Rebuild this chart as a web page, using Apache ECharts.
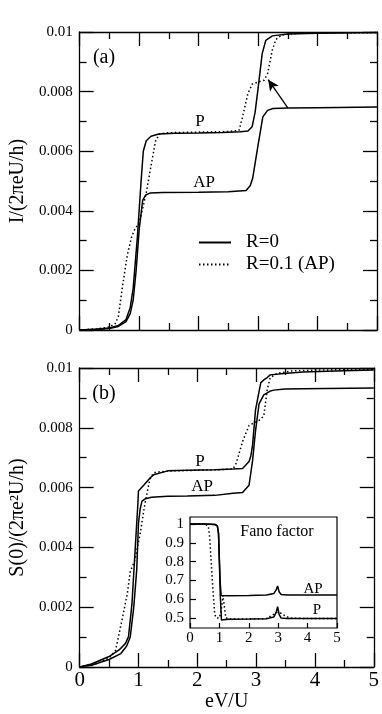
<!DOCTYPE html>
<html>
<head>
<meta charset="utf-8">
<script src="https://cdn.jsdelivr.net/npm/echarts@6/dist/echarts.min.js"></script>
<style>
    html, body {margin: 0; padding: 0; background: #fff;}
    #chart {width: 382px; height: 714px;}
</style>
</head>
<body>
<div id="chart"></div>
<script>
// panel (a): current, y in units of 0.001
const aPx = [0, 0.3, 0.5, 0.65, 0.78, 0.85, 0.9, 0.97, 1.03, 1.07, 1.12, 1.2, 1.33, 1.6, 2.0, 2.4, 2.7, 2.83, 2.9, 2.95, 3.0, 3.07, 3.13, 3.24, 3.5, 4.0, 5.0];
const aPy = [0, 0.03, 0.07, 0.15, 0.35, 0.75, 1.4, 3.1, 4.9, 6.0, 6.35, 6.5, 6.58, 6.6, 6.61, 6.63, 6.65, 6.68, 6.82, 7.3, 8.1, 9.28, 9.72, 9.87, 9.93, 9.96, 9.98];
const aAPx = [0, 0.3, 0.5, 0.65, 0.78, 0.85, 0.9, 0.95, 1.0, 1.06, 1.11, 1.19, 1.4, 2.0, 2.5, 2.8, 2.87, 2.91, 3.0, 3.08, 3.16, 3.25, 3.5, 4.0, 5.0];
const aAPy = [0, 0.02, 0.05, 0.12, 0.28, 0.55, 1.0, 2.0, 3.35, 4.35, 4.53, 4.6, 4.61, 4.62, 4.64, 4.68, 4.85, 5.1, 6.2, 7.15, 7.37, 7.43, 7.45, 7.46, 7.48];
const aRx = [0, 0.3, 0.5, 0.6, 0.65, 0.72, 0.8, 0.87, 0.92, 1.0, 1.05, 1.12, 1.19, 1.28, 1.35, 1.5, 2.0, 2.5, 2.68, 2.74, 2.83, 2.9, 3.0, 3.1, 3.16, 3.24, 3.3, 3.4, 3.6, 4.0, 5.0];
const aRy = [0, 0.04, 0.1, 0.22, 0.45, 1.45, 2.5, 3.1, 3.35, 3.6, 4.0, 4.6, 5.4, 6.38, 6.58, 6.62, 6.64, 6.66, 6.7, 7.16, 7.94, 8.25, 8.32, 8.38, 8.6, 9.4, 9.75, 9.9, 9.95, 9.97, 9.98];

// panel (b): noise, y in units of 0.001
const bPx = [0, 0.2, 0.5, 0.67, 0.78, 0.83, 0.89, 0.94, 0.99, 1.0, 1.1, 1.2, 1.27, 1.5, 1.83, 2.3, 2.61, 2.77, 2.88, 2.91, 2.94, 2.99, 3.05, 3.08, 3.13, 3.19, 3.24, 3.47, 3.8, 4.5, 5.0];
const bPy = [0, 0.1, 0.35, 0.57, 0.79, 1.01, 2.13, 3.8, 5.47, 5.89, 6.1, 6.33, 6.44, 6.56, 6.58, 6.6, 6.62, 6.64, 6.87, 7.06, 7.42, 8.6, 9.21, 9.51, 9.6, 9.68, 9.77, 9.82, 9.87, 9.91, 9.93];
const bAPx = [0, 0.2, 0.5, 0.7, 0.8, 0.86, 0.92, 0.97, 1.0, 1.03, 1.06, 1.12, 1.22, 1.5, 1.83, 2.3, 2.61, 2.77, 2.88, 2.94, 2.99, 3.05, 3.13, 3.24, 3.3, 3.49, 3.8, 5.0];
const bAPy = [0, 0.06, 0.25, 0.45, 0.7, 1.0, 2.0, 3.24, 4.8, 5.3, 5.55, 5.63, 5.68, 5.71, 5.72, 5.74, 5.81, 5.84, 6.08, 6.9, 7.9, 8.8, 9.1, 9.23, 9.26, 9.3, 9.31, 9.33];
const bRx = [0, 0.3, 0.5, 0.61, 0.72, 0.81, 0.86, 0.94, 1.03, 1.11, 1.19, 1.25, 1.3, 1.6, 2.0, 2.4, 2.61, 2.66, 2.77, 2.88, 2.95, 3.05, 3.13, 3.16, 3.19, 3.24, 3.36, 3.6, 4.0, 5.0];
const bRy = [0, 0.12, 0.3, 0.55, 1.57, 2.45, 3.19, 3.58, 4.47, 5.47, 6.25, 6.48, 6.52, 6.56, 6.58, 6.6, 6.63, 6.81, 7.54, 8.08, 8.15, 8.25, 8.39, 8.84, 9.29, 9.68, 9.82, 9.9, 9.93, 9.96];

// inset: Fano factor
const fAPx = [0, 0.5, 0.85, 0.93, 0.97, 1.0, 1.03, 1.06, 1.1, 1.3, 2.0, 2.6, 2.85, 2.93, 2.98, 3.03, 3.1, 3.3, 4.0, 5.0];
const fAPy = [1.0, 1.0, 0.997, 0.99, 0.95, 0.8, 0.68, 0.62, 0.615, 0.618, 0.62, 0.622, 0.63, 0.65, 0.67, 0.64, 0.625, 0.622, 0.623, 0.623];
const fPx = [0, 0.5, 0.85, 0.93, 0.97, 1.0, 1.03, 1.07, 1.12, 1.3, 2.0, 2.6, 2.85, 2.93, 2.98, 3.03, 3.1, 3.3, 4.0, 5.0];
const fPy = [1.0, 1.0, 0.997, 0.99, 0.95, 0.8, 0.62, 0.49, 0.488, 0.494, 0.495, 0.496, 0.505, 0.53, 0.56, 0.52, 0.5, 0.497, 0.497, 0.497];
const fRx = [0, 0.5, 0.62, 0.67, 0.72, 0.78, 0.84, 0.9, 1.0, 1.08, 1.12, 1.17, 1.22, 1.4, 2.0, 2.6, 2.8, 2.95, 3.1, 3.25, 3.4, 4.0, 5.0];
const fRy = [1.0, 0.998, 0.99, 0.93, 0.8, 0.65, 0.52, 0.5, 0.5, 0.56, 0.62, 0.56, 0.5, 0.495, 0.495, 0.497, 0.515, 0.53, 0.525, 0.51, 0.5, 0.497, 0.497];

const insetXTicks = [0, 1, 2, 3, 4, 5];
const insetYTicks = [0.5, 0.6, 0.7, 0.8, 0.9, 1];

const FONT = '"Liberation Serif", "DejaVu Serif", serif';
const BLACK = '#000';

function pairs(xs, ys, scale) {
    return xs.map(function (x, i) {
        return [x, ys[i] * scale];
    });
}

let chart = echarts.init(document.getElementById('chart'), null, {renderer: 'canvas'});

function frameX(grid, pos, showLabel) {
    return {
        type: 'value', gridIndex: grid, position: pos, min: 0, max: 5, interval: 1,
        axisLine: {show: true, onZero: false, lineStyle: {color: BLACK, width: 1.3}},
        axisTick: {show: true, inside: true, length: 14, lineStyle: {color: BLACK, width: 1.3}},
        minorTick: {show: true, splitNumber: 2, length: 7, lineStyle: {color: BLACK, width: 1.3}},
        splitLine: {show: false},
        axisLabel: {show: showLabel, color: BLACK, fontFamily: FONT, fontSize: 21, margin: 3}
    };
}

function frameY(grid, pos, showLabel) {
    return {
        type: 'value', gridIndex: grid, position: pos, min: 0, max: 0.01, interval: 0.002,
        axisLine: {show: true, onZero: false, lineStyle: {color: BLACK, width: 1.3}},
        axisTick: {show: true, inside: true, length: 14, lineStyle: {color: BLACK, width: 1.3}},
        minorTick: {show: true, splitNumber: 2, length: 7, lineStyle: {color: BLACK, width: 1.3}},
        splitLine: {show: false},
        axisLabel: {show: showLabel, color: BLACK, fontFamily: FONT, fontSize: 15, margin: 7}
    };
}

function line(name, xi, yi, data, dotted) {
    return {
        name: name, type: 'line', xAxisIndex: xi, yAxisIndex: yi,
        data: data, symbol: 'none', smooth: false, silent: true,
        lineStyle: {color: BLACK, width: 1.5, type: dotted ? [1.5, 2.5] : 'solid'},
        itemStyle: {color: BLACK}
    };
}

let xA = frameX(0, 'bottom', false);
let xAtop = frameX(0, 'top', false);
let xB = frameX(1, 'bottom', true);
xB.name = 'eV/U';
xB.nameLocation = 'middle';
xB.nameGap = 21;
xB.nameTextStyle = {color: BLACK, fontFamily: FONT, fontSize: 20};
let xBtop = frameX(1, 'top', false);

let yA = frameY(0, 'left', true);
yA.name = 'I/(2πeU/h)';
yA.nameLocation = 'middle';
yA.nameGap = 47;
yA.nameTextStyle = {color: BLACK, fontFamily: FONT, fontSize: 20};
let yAright = frameY(0, 'right', false);
let yB = frameY(1, 'left', true);
yB.name = 'S(0)/(2πe²U/h)';
yB.nameLocation = 'middle';
yB.nameGap = 50;
yB.nameTextStyle = {color: BLACK, fontFamily: FONT, fontSize: 20};
let yBright = frameY(1, 'right', false);

let xInset = {
    type: 'value', gridIndex: 2, position: 'bottom', min: 0, max: 5,
    axisLine: {show: false, onZero: false},
    axisTick: {show: true, inside: true, length: 5, customValues: insetXTicks, lineStyle: {color: BLACK, width: 1.2}},
    splitLine: {show: false},
    axisLabel: {color: BLACK, fontFamily: FONT, fontSize: 15, margin: 3, customValues: insetXTicks}
};
let yInset = {
    type: 'value', gridIndex: 2, position: 'left', min: 0.447, max: 1.037,
    axisLine: {show: false, onZero: false},
    axisTick: {show: true, inside: true, length: 6, customValues: insetYTicks, lineStyle: {color: BLACK, width: 1.2}},
    splitLine: {show: false},
    axisLabel: {color: BLACK, fontFamily: FONT, fontSize: 15, margin: 6, customValues: insetYTicks}
};

let arrowSeries = line('R=0', 0, 0, pairs(aPx, aPy, 0.001), false);
arrowSeries.markLine = {
    silent: true,
    symbol: ['none', 'arrow'],
    symbolSize: [8, 11],
    label: {show: false},
    lineStyle: {color: BLACK, width: 1.3, type: 'solid'},
    data: [[{coord: [3.5, 0.00745]}, {coord: [3.17, 0.0084]}]]
};

let option = {
    animation: false,
    backgroundColor: '#fff',
    textStyle: {fontFamily: FONT},
    grid: [
        {left: 77, top: 32, width: 300, height: 298},
        {left: 77, top: 368, width: 299, height: 299},
        {left: 190, top: 517, width: 147, height: 111, show: true,
            backgroundColor: '#fff', borderColor: BLACK, borderWidth: 1.2}
    ],
    xAxis: [xA, xAtop, xB, xBtop, xInset],
    yAxis: [yA, yAright, yB, yBright, yInset],
    legend: {
        orient: 'vertical', left: 193, top: 228,
        itemWidth: 32, itemHeight: 14, itemGap: 3,
        selectedMode: false,
        itemStyle: {opacity: 0},
        data: ['R=0', 'R=0.1 (AP)'],
        textStyle: {color: BLACK, fontFamily: FONT, fontSize: 19, padding: [0, 0, 0, 10]}
    },
    series: [
        arrowSeries,
        line('R=0', 0, 0, pairs(aAPx, aAPy, 0.001), false),
        line('R=0.1 (AP)', 0, 0, pairs(aRx, aRy, 0.001), true),
        line('bP', 2, 2, pairs(bPx, bPy, 0.001), false),
        line('bAP', 2, 2, pairs(bAPx, bAPy, 0.001), false),
        line('bR', 2, 2, pairs(bRx, bRy, 0.001), true),
        line('fAP', 4, 4, pairs(fAPx, fAPy, 1), false),
        line('fP', 4, 4, pairs(fPx, fPy, 1), false),
        line('fR', 4, 4, pairs(fRx, fRy, 1), true)
    ],
    graphic: [
        {type: 'text', x: 104, y: 58, style: {text: '(a)', font: '20px ' + FONT, fill: BLACK, align: 'center', verticalAlign: 'middle'}},
        {type: 'text', x: 104, y: 394, style: {text: '(b)', font: '20px ' + FONT, fill: BLACK, align: 'center', verticalAlign: 'middle'}},
        {type: 'text', x: 200, y: 122, style: {text: 'P', font: '17px ' + FONT, fill: BLACK, align: 'center', verticalAlign: 'middle'}},
        {type: 'text', x: 204, y: 183, style: {text: 'AP', font: '17px ' + FONT, fill: BLACK, align: 'center', verticalAlign: 'middle'}},
        {type: 'text', x: 200, y: 462, style: {text: 'P', font: '17px ' + FONT, fill: BLACK, align: 'center', verticalAlign: 'middle'}},
        {type: 'text', x: 202, y: 487, style: {text: 'AP', font: '17px ' + FONT, fill: BLACK, align: 'center', verticalAlign: 'middle'}},
        {type: 'text', x: 277, y: 532, style: {text: 'Fano factor', font: '16px ' + FONT, fill: BLACK, align: 'center', verticalAlign: 'middle'}},
        {type: 'text', x: 313, y: 589, style: {text: 'AP', font: '15px ' + FONT, fill: BLACK, align: 'center', verticalAlign: 'middle'}},
        {type: 'text', x: 317, y: 610, style: {text: 'P', font: '15px ' + FONT, fill: BLACK, align: 'center', verticalAlign: 'middle'}}
    ]
};

chart.setOption(option);
</script>
</body>
</html>
